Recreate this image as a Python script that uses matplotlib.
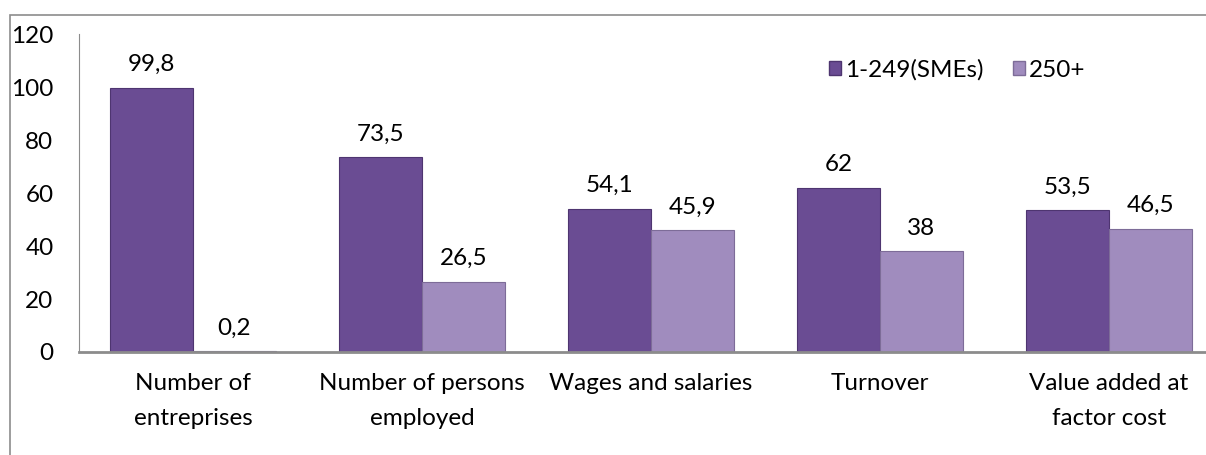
import numpy as np
import matplotlib.pyplot as plt
from matplotlib.patches import Rectangle, Patch

# data
categories = ["Number of\nentreprises", "Number of persons\nemployed",
              "Wages and salaries", "Turnover", "Value added at\nfactor cost"]
sme = [99.8, 73.5, 54.1, 62, 53.5]
large = [0.2, 26.5, 45.9, 38, 46.5]
sme_labels = ["99,8", "73,5", "54,1", "62", "53,5"]
large_labels = ["0,2", "26,5", "45,9", "38", "46,5"]
series_names = ["1-249(SMEs)", "250+"]

plt.rcParams['font.family'] = ['Lato', 'DejaVu Sans']
fs = 17.5

W, H = 1206, 455
fig = plt.figure(figsize=(W / 100, H / 100), dpi=100)

# outer chart border (runs past the right/bottom edge of the picture)
fig.patches.append(Rectangle((10 / W, -0.1), 1.2, 1 - 15 / H + 0.1,
                             transform=fig.transFigure, fill=False,
                             edgecolor='#8c8c8c', linewidth=1.2))

# plot area: 229 px per category, clipped on the right like the original
left, right = 78.5, 78.5 + 5 * 229
ax = fig.add_axes([left / W, 1 - 352 / H, (right - left) / W, (352 - 34) / H])

x = np.arange(len(categories))
w = 83 / 229
c1, c2 = '#6a4c93', '#a08cbe'
b1 = ax.bar(x - w / 2, sme, w, color=c1, edgecolor='#4e3570', linewidth=0.8)
b2 = ax.bar(x + w / 2, large, w, color=c2, edgecolor='#7d6c98', linewidth=0.8)

for bars, labs in ((b1, sme_labels), (b2, large_labels)):
    for r, t in zip(bars, labs):
        ax.annotate(t, (r.get_x() + r.get_width() / 2, r.get_height()),
                    xytext=(0, 9), textcoords='offset points',
                    ha='center', va='bottom', fontsize=fs)

ax.set_xlim(-0.5, len(categories) - 0.5)
ax.set_ylim(0, 120)
ax.set_yticks(range(0, 121, 20))
ax.set_xticks(x)
ax.set_xticklabels(categories, fontsize=fs, linespacing=1.85)
ax.tick_params(axis='y', length=0, pad=18, labelsize=fs)
ax.tick_params(axis='x', length=0, pad=15)
for s in ('top', 'right'):
    ax.spines[s].set_visible(False)
ax.spines['left'].set_color('#8c8c8c')
ax.spines['bottom'].set_color('#8c8c8c')
ax.spines['bottom'].set_linewidth(2)

handles = [Patch(facecolor=c1, edgecolor='#4e3570'),
           Patch(facecolor=c2, edgecolor='#7d6c98')]
fig.legend(handles, series_names, loc='center left',
           bbox_to_anchor=(817 / W, 1 - 70 / H), ncol=2, frameon=False,
           fontsize=fs, handlelength=0.5, handleheight=0.5,
           handletextpad=0.15, columnspacing=1.2, borderpad=0)

fig.savefig('out.png', dpi=100)
